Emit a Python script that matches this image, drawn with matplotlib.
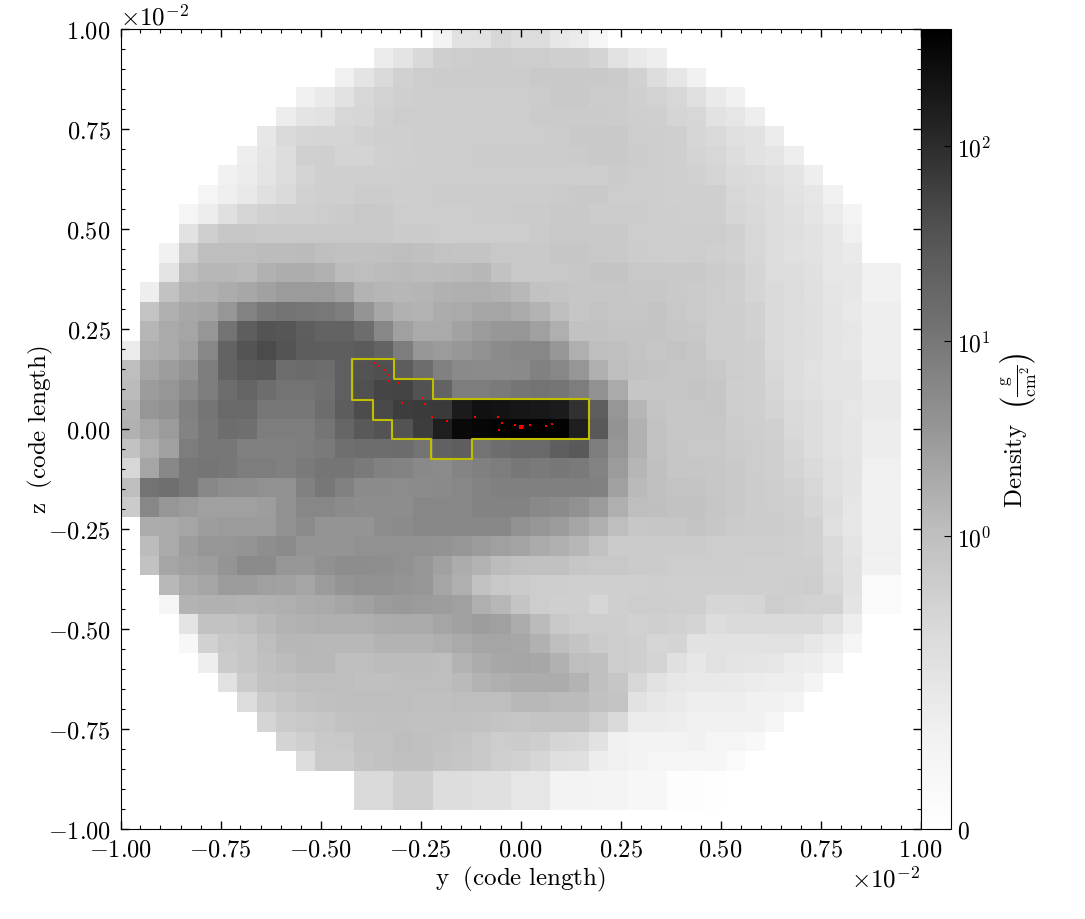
import numpy as np
import matplotlib
matplotlib.use('Agg')
import matplotlib.pyplot as plt
from matplotlib.colors import SymLogNorm
from matplotlib.ticker import MultipleLocator, ScalarFormatter

##############################################################################
# projected density per cell, top row first, in g/cm^2 (0 = nothing there)

row_00 = [0]*16 + [.27,.56,.56,.71,.61,.64,.46,.415,.2] + [0]*16
row_01 = [0]*13 + [.40,.52,.68,.79,.83,.84,.84,.83,.83,.80,.80,.74,.56,.445,.37] + [0]*13
row_02 = [0]*11 + [.34,.52,.67,.77,.83,.84,.84,.84,.84,.84,.87,.87,.87,.87,.85,.77,.61,.49,.32] + [0]*11
row_03 = [0]*9 + [.30,.43,.55,.71,.76,.79,.83,.83,.83,.83,.83,.83,.84,.87,.87,.84,.84,.80,.76,.71,.58,.43,.30] + [0]*9
row_04 = [0]*8 + [.385,.52,.55,.71,.72,.78,.83,.83,.83,.83,.83,.83,.83,.85,.85,.85,.85,.84,.82,.79,.73,.71,.55,.49,.37] + [0]*8
row_05 = [0]*7 + [.46,.655,.72,.73,.73,.77,.79,.80,.83,.83,.83,.83,.83,.83,.83,.84,.87,.87,.87,.83,.82,.79,.72,.67,.58,.55,.40] + [0]*7
row_06 = [0]*6 + [.37,.505,.625,.78,.80,.74,.74,.78,.79,.82,.83,.83,.84,.84,.84,.84,.84,.85,.87,.87,.84,.82,.79,.74,.71,.625,.55,.505,.37] + [0]*6
row_07 = [0]*5 + [.32,.40,.52,.64,.74,.79,.79,.80,.80,.82,.83,.83,.83,.83,.83,.83,.83,.83,.83,.83,.85,.83,.82,.79,.77,.73,.655,.64,.58,.52,.37] + [0]*5
row_08 = [0]*4 + [.23,.355,.445,.58,.67,.77,.79,.80,.84,.84,.82,.83,.84,.84,.84,.84,.84,.84,.85,.87,.87,.83,.83,.82,.80,.79,.79,.71,.67,.61,.55,.49,.32] + [0]*4
row_09 = [0]*3 + [.23,.385,.58,.72,.77,.79,.80,.83,.85,.88,.87,.83,.83,.83,.83,.84,.84,.85,.85,.87,.87,.84,.84,.84,.82,.82,.80,.80,.72,.68,.61,.58,.505,.415,.25] + [0]*3
row_10 = [0]*3 + [.535,.79,.90,.90,.89,.89,.89,.89,.89,.89,.88,.85,.85,.83,.83,.83,.83,.83,.85,.88,.88,.88,.87,.83,.83,.83,.83,.83,.78,.71,.64,.595,.535,.46,.34] + [0]*3
row_11 = [0]*2 + [.32,.83,1.04,1.04,1.04,1.12,1.12,1.15,1.0,.975,.975,.99,1.04,.99,.94,.93,.93,.89,.89,.87,.91,.91,.88,.87,.84,.83,.82,.83,.80,.77,.695,.64,.58,.55,.49,.43] + [0]*3
row_12 = [0]*2 + [.52,1.04,1.30,1.30,1.19,1.52,1.71,1.71,1.52,1.12,1.04,1.12,1.19,1.12,1.15,1.19,1.26,.95,.89,.87,.88,.90,.93,.93,.89,.88,.87,.87,.84,.82,.73,.64,.61,.58,.48,.46,.34,.34,0]
row_13 = [0] + [.37,.95,1.43,1.56,1.82,2.05,2.46,2.95,3.04,3.04,2.39,1.43,1.34,1.30,1.38,1.52,1.61,1.66,1.47,1.23,.95,.93,.91,.91,.91,.90,.90,.87,.85,.83,.80,.73,.67,.63,.58,.51,.47,.32,.32,0]
row_14 = [0] + [.93,1.61,2.05,2.32,3.54,6.7,9.7,11.5,10,9.4,7.9,3.78,2.05,1.52,1.43,1.77,1.93,2.18,2.25,1.87,1.43,1.0,.91,.94,.91,.91,.93,.88,.85,.83,.82,.77,.67,.625,.595,.52,.445,.37,.37,0]
row_15 = [0] + [1.34,1.93,2.25,3.54,11.5,23.6,33.7,31.5,23.6,19.7,19.7,14.1,5.87,2.62,1.93,1.93,2.39,3.04,3.33,3.54,2.62,1.66,.95,.95,.93,.93,.93,.90,.88,.83,.82,.77,.67,.64,.595,.52,.49,.37,.37,0]
row_16 = [.415,1.66,1.93,2.62,5.87,19.7,33.7,45,33.7,25,23.6,23.6,26.2,19.7,8.2,3.33,3.04,3.33,4.19,4.96,5.87,5.87,3.33,1.66,1.04,.99,.94,.91,.94,.91,.83,.82,.79,.67,.625,.595,.52,.47,.37,.37,0]
row_17 = [1.04,2.25,2.78,3.78,8.2,19.7,26.2,28.2,14.1,15.4,14.1,22.7,36.2,38.5,24.3,14.1,6.95,5.3,4.96,4.96,5.3,6.95,5.87,3.54,1.66,1.04,.95,.93,.91,.91,.89,.83,.79,.695,.61,.56,.52,.52,.37,.37,0]
row_18 = [1.15,2.86,3.54,4.96,8.2,14.1,18.4,14.1,11.5,11.5,13,22.7,38.5,51.4,54,37.5,19.7,8.2,8.2,9.1,10.4,11.5,10.4,8.2,4.19,1.93,.91,.91,.91,.93,.91,.82,.79,.72,.625,.58,.52,.52,.43,.43,0]
row_19 = [1.43,3.54,4.19,6.95,10.4,16.4,16.4,9.7,9.7,9.7,14.1,25,43,46,63.4,66.9,70,163,224,210,197,179,163,87,23.6,3.54,1.34,.93,.90,.90,.91,.83,.80,.74,.67,.61,.535,.49,.43,.43,0]
row_20 = [1.52,2.25,3.04,6.5,9.7,14.1,13,8.2,8.2,8.2,10.4,17.7,28.2,36.2,36.2,65,148,290,314,340,373,385,362,153,28.2,3.92,1.52,.96,.90,.90,.90,.84,.82,.78,.68,.61,.55,.505,.385,.385,0]
row_21 = [.95,1.66,2.62,8.2,9.7,9.7,7.4,7.4,7.4,8.2,9.1,13,14.1,14.1,14.8,11.5,21.2,23.6,11.5,14.1,16.4,16.4,23.6,28.2,8.2,3.54,1.56,.96,.91,.89,.89,.85,.83,.79,.72,.625,.55,.505,.385,.385,0]
row_22 = [.71,2.25,5.87,9.7,10.4,9.7,8.2,8.2,7.4,9.1,10.4,10.4,9.1,6.95,6.5,5.5,4.96,6.3,7.4,8.2,9.7,9.1,9.7,9.1,6.5,3.04,1.34,.99,.91,.91,.90,.87,.83,.80,.74,.655,.58,.52,.34,.34,0]
row_23 = [1.04,11.5,13,9.7,5.87,4.64,4.48,4.19,4.19,6.95,9.7,6.95,4.96,4.96,4.8,4.96,5.3,5.87,6.5,7.4,7.4,7.4,7.4,7.4,6.95,2.62,1.19,.99,.94,.93,.90,.87,.84,.82,.77,.695,.58,.52,.32,.32,0]
row_24 = [.85,5.87,3.54,3.04,2.62,2.62,2.62,2.78,4.19,5.87,5.87,4.96,4.64,4.64,4.64,5.87,5.87,5.87,6.5,6.5,6.5,5.48,4.96,4.19,3.04,1.66,1.04,1.0,.95,.96,.91,.87,.84,.83,.80,.73,.61,.49,.32,.32,0]
row_25 = [0,1.82,1.93,2.25,2.78,3.04,3.04,3.04,4.19,4.96,3.78,3.78,3.78,4.64,4.96,5.87,5.87,5.87,5.87,5.87,4.19,3.54,3.04,2.25,1.66,1.04,.90,.91,.91,.94,.90,.85,.84,.84,.82,.77,.58,.46,.32,.32,0]
row_26 = [0,1.09,1.93,2.78,3.43,3.54,3.78,4.48,4.96,3.78,3.78,3.78,4.19,4.19,4.19,4.19,3.92,3.54,3.04,2.62,2.32,1.87,1.61,1.26,.96,.85,.85,.85,.85,.85,.83,.83,.83,.83,.80,.77,.67,.52,.34,.34,0]
row_27 = [0,.95,2.25,2.62,2.78,3.78,4.96,4.96,3.54,3.33,4.19,4.64,4.64,4.48,4.19,3.54,2.54,1.82,1.43,1.12,.99,.975,.975,.91,.89,.89,.85,.85,.83,.83,.83,.83,.80,.80,.80,.80,.67,.55,.32,.32,0]
row_28 = [0]*2 + [1.23,1.93,2.25,3.04,3.04,2.62,2.46,2.25,3.04,3.78,4.19,4.19,3.78,3.54,2.25,1.66,.95,.89,.85,.83,.83,.79,.80,.79,.80,.82,.80,.80,.79,.79,.79,.79,.82,.83,.695,.535,.114,.114,0]
row_29 = [0]*2 + [.23,1.43,1.52,1.52,1.43,1.52,1.66,1.82,1.93,2.25,2.46,3.04,3.23,3.04,2.78,2.62,1.66,1.30,.93,.83,.80,.79,.72,.80,.83,.83,.82,.80,.72,.72,.73,.83,.78,.76,.76,.52,.114,.114,0]
row_30 = [0]*3 + [.52,.95,.95,1.04,1.23,1.43,1.52,1.66,1.66,1.66,1.82,1.93,1.93,2.25,2.46,2.78,2.62,1.82,1.15,.89,.83,.83,.82,.77,.80,.77,.74,.61,.67,.67,.67,.67,.67,.535,.37] + [0]*3
row_31 = [0]*3 + [.18,.77,.89,.91,1.04,1.30,1.30,1.23,1.23,1.23,1.43,1.43,1.43,1.66,1.93,2.25,2.25,2.05,1.52,1.04,.93,.85,.83,.80,.72,.74,.55,.55,.55,.55,.56,.56,.46,.40,.23] + [0]*3
row_32 = [0]*4 + [.37,.85,.91,.99,1.12,1.23,1.23,1.04,1.04,1.12,1.12,1.12,1.04,1.43,1.82,2.05,2.25,2.05,1.52,1.04,.99,.83,.79,.74,.58,.46,.56,.52,.505,.49,.40,.385,.27] + [0]*4
row_33 = [0]*5 + [.56,.85,.95,.975,1.04,1.04,1.04,.99,.99,1.04,1.04,1.04,1.19,1.43,1.66,1.82,1.82,1.82,1.43,.99,.91,.71,.535,.46,.445,.445,.43,.40,.37,.37,.25] + [0]*5
row_34 = [0]*6 + [.64,.85,.91,.95,.99,1.04,1.04,1.04,1.04,.99,.99,1.04,1.04,1.04,1.23,1.23,1.15,1.15,.975,.93,.55,.475,.43,.37,.37,.37,.30,.30,.25] + [0]*6
row_35 = [0]*7 + [.73,.85,.89,.91,.95,.975,.99,.99,.975,.975,.975,.95,.93,.91,.93,.93,.93,.83,.67,.40,.40,.37,.32,.32,.32,.32,.205] + [0]*7
row_36 = [0]*8 + [.74,.80,.87,.89,.95,.95,1.04,.99,.95,.93,.89,.83,.85,.82,.73,.71,.55,.32,.27,.27,.27,.32,.23,.23,.16] + [0]*8
row_37 = [0]*9 + [.61,.85,.85,.93,.95,.99,.99,.93,.91,.87,.80,.77,.72,.595,.58,.385,.34,.27,.23,.23,.205,.205,.114] + [0]*9
row_38 = [0]*12 + [.655,.655,.79,.79,.61,.61,.58,.58,.49,.49,.27,.27,.25,.25,.18,.18,.045,.045,.023] + [0]*10
row_39 = [0]*12 + [.655,.655,.79,.79,.61,.61,.58,.58,.49,.49,.27,.27,.25,.25,.18,.18,.045,.045,.023] + [0]*10
row_40 = [0]*41

density = np.array([row_00, row_01, row_02, row_03, row_04, row_05, row_06, row_07,
                    row_08, row_09, row_10, row_11, row_12, row_13, row_14, row_15,
                    row_16, row_17, row_18, row_19, row_20, row_21, row_22, row_23,
                    row_24, row_25, row_26, row_27, row_28, row_29, row_30, row_31,
                    row_32, row_33, row_34, row_35, row_36, row_37, row_38, row_39,
                    row_40], dtype=float)

# clump outline, in units of 1e-2 code length
clump_y = [-0.4205, -0.316, -0.316, -0.219, -0.219, 0.172, 0.172, -0.1205, -0.1205,
           -0.223, -0.223, -0.3205, -0.3205, -0.3695, -0.3695, -0.4205, -0.4205]
clump_z = [0.174, 0.174, 0.125, 0.125, 0.076, 0.076, -0.025, -0.025, -0.075,
           -0.075, -0.025, -0.025, 0.022, 0.022, 0.073, 0.073, 0.174]

# sink particles, same units
sink_y = [-0.3646, -0.3555, -0.3405, -0.332, -0.3305, -0.3055, -0.297, -0.246, -0.239, -0.2205,
          -0.183, -0.114, -0.057, -0.046, -0.0545, -0.014, 0.006, 0.023, 0.0645, 0.078]
sink_z = [0.164, 0.157, 0.1475, 0.135, 0.12, 0.114, 0.064, 0.0775, 0.063, 0.03,
          0.02, 0.029, 0.029, 0.015, -0.003, 0.009, 0.007, 0.011, 0.0075, 0.0125]
big_sink_y = [0.001]
big_sink_z = [0.006]

cbar_ticks = [0, 1, 10, 100]
cbar_labels = ['$0$', '$10^{0}$', '$10^{1}$', '$10^{2}$']

##############################################################################

plt.rcParams['mathtext.fontset'] = 'cm'
plt.rcParams['font.family'] = ['cmr10', 'DejaVu Serif']
plt.rcParams['axes.formatter.use_mathtext'] = True
plt.rcParams['axes.unicode_minus'] = True

W, H = 1085.0, 920.0
fig = plt.figure(figsize=(W/100, H/100), dpi=100)
ax = fig.add_axes([120.5/W, 1-830/H, 800/W, 800/H])
cax = fig.add_axes([920.5/W, 1-830/H, 30.5/W, 800/H])

norm = SymLogNorm(linthresh=1, linscale=1.353, vmin=0, vmax=400, base=10)
im = ax.imshow(density, cmap='Greys', norm=norm, interpolation='nearest', aspect='auto',
               extent=[-0.010025, 0.0099925, -0.010005, 0.0100125])

ax.plot(np.array(clump_y)*1e-2, np.array(clump_z)*1e-2, color='y', lw=1.5,
        solid_joinstyle='round')
ax.scatter(np.array(sink_y)*1e-2, np.array(sink_z)*1e-2, s=2.0, color='r', marker='s', linewidths=0)
ax.scatter(np.array(big_sink_y)*1e-2, np.array(big_sink_z)*1e-2, s=6, color='r', marker='s', linewidths=0)

ax.set_xlim(-0.01, 0.01)
ax.set_ylim(-0.01, 0.01)
for axis in (ax.xaxis, ax.yaxis):
    fmt = ScalarFormatter(useMathText=True)
    fmt.set_scientific(True)
    fmt.set_powerlimits((-2, -2))
    axis.set_major_formatter(fmt)
    axis.set_major_locator(MultipleLocator(0.0025))
    axis.set_minor_locator(MultipleLocator(0.0005))
    axis.get_offset_text().set_fontsize(18)
ax.tick_params(which='major', direction='in', top=True, right=True, length=6, width=1, labelsize=17.5, pad=7)
ax.tick_params(which='minor', direction='in', top=True, right=True, length=3, width=0.8)
ax.set_xlabel(r'$\mathrm{y\ \ (code\ length)}$', fontsize=18, labelpad=2)
ax.set_ylabel(r'$\mathrm{z\ \ (code\ length)}$', fontsize=18, labelpad=-5)

cbar = fig.colorbar(im, cax=cax, ticks=cbar_ticks)
cbar.ax.set_yticklabels(cbar_labels)
cbar.ax.minorticks_off()
cbar.ax.tick_params(which='major', direction='in', length=5, width=0.8, labelsize=17, pad=4)
cbar.set_label(r'$\mathrm{Density}\ \ \left(\frac{\mathrm{g}}{\mathrm{cm}^{2}}\right)$', fontsize=18, labelpad=5)

plt.savefig('out.png', dpi=100)
plt.close()
